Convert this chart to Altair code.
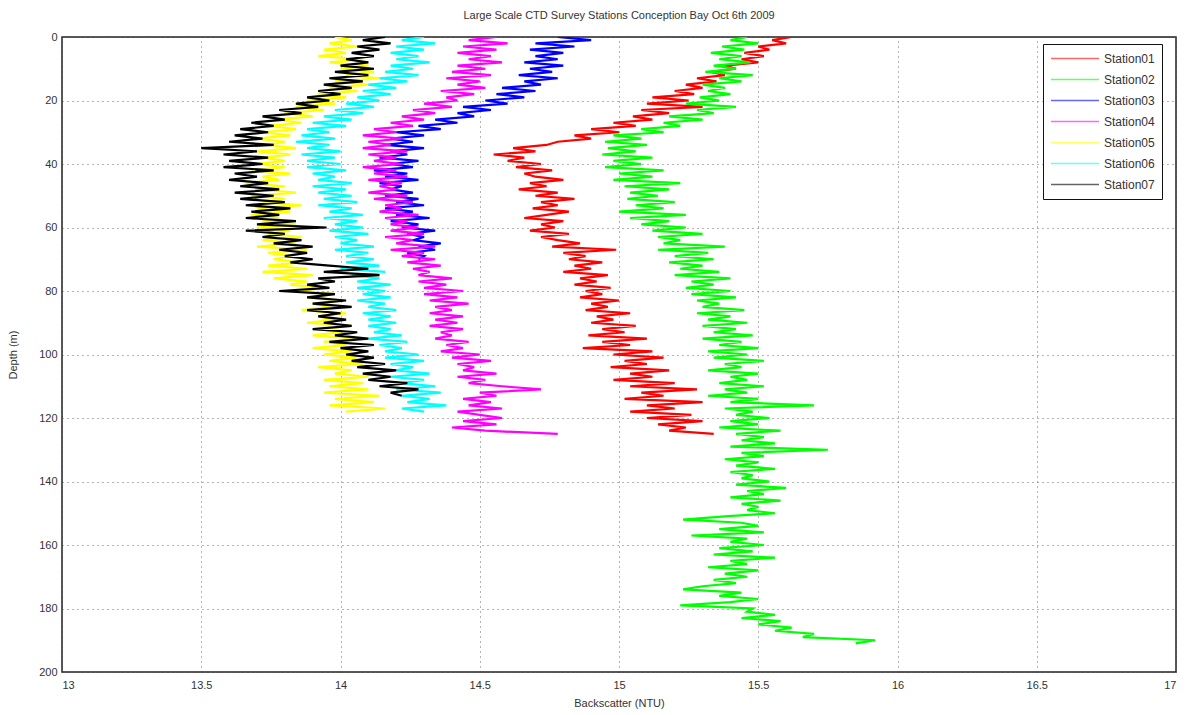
import altair as alt
import pandas as pd

stations = ["Station01", "Station02", "Station03", "Station04", "Station05", "Station06", "Station07"]
colors = ["#ff0000", "#00ff00", "#0000ff", "#ff00ff", "#ffff00", "#00ffff", "#000000"]

# Backscatter (NTU) readings, one per metre of depth starting at 0 m
s01_surface = 17.3  # first surface reading runs off the right edge
s01 = [15.62, 15.55, 15.60, 15.50, 15.54, 15.45, 15.52, 15.44, 15.50, 15.38,
       15.42, 15.33, 15.38, 15.28, 15.35, 15.24, 15.30, 15.20, 15.27, 15.12,
       15.25, 15.10, 15.30, 15.08, 15.18, 15.05, 15.12, 14.98, 15.06, 14.90,
       15.00, 14.84, 14.90, 14.78, 14.74, 14.62, 14.70, 14.55, 14.66, 14.60,
       14.72, 14.63, 14.76, 14.66, 14.70, 14.80, 14.68, 14.74, 14.64, 14.78,
       14.70, 14.84, 14.72, 14.78, 14.69, 14.82, 14.74, 14.66, 14.80, 14.72,
       14.77, 14.68, 14.82, 14.72, 14.78, 14.86, 14.76, 14.99, 14.80, 14.88,
       14.82, 14.94, 14.84, 14.90, 14.80, 14.96, 14.86, 14.92, 14.84, 14.97,
       14.88, 14.94, 14.86, 15.00, 14.90, 14.96, 14.88, 15.04, 14.92, 14.98,
       14.90, 15.06, 14.94, 15.02, 14.89, 15.10, 14.94, 15.04, 14.87, 15.12,
       14.98, 15.16, 15.02, 15.10, 14.97, 15.18, 15.04, 15.12, 14.98, 15.20,
       15.04, 15.28, 15.08, 15.16, 15.02, 15.30, 15.10, 15.20, 15.04, 15.26,
       15.10, 15.30, 15.14, 15.24, 15.18, 15.34]
s02 = [15.46, 15.40, 15.50, 15.37, 15.45, 15.33, 15.44, 15.36, 15.47, 15.34,
       15.42, 15.31, 15.48, 15.36, 15.44, 15.30, 15.38, 15.32, 15.40, 15.29,
       15.36, 15.24, 15.42, 15.28, 15.34, 15.18, 15.30, 15.16, 15.22, 15.08,
       15.16, 14.98, 15.08, 14.95, 15.10, 14.96, 15.06, 14.94, 15.12, 14.98,
       15.08, 14.95, 15.16, 15.00, 15.12, 14.98, 15.22, 15.02, 15.18, 15.04,
       15.14, 15.03, 15.20, 15.06, 15.16, 15.00, 15.24, 15.04, 15.18, 15.08,
       15.24, 15.12, 15.30, 15.14, 15.22, 15.16, 15.38, 15.14, 15.32, 15.20,
       15.34, 15.18, 15.30, 15.22, 15.36, 15.20, 15.40, 15.26, 15.34, 15.24,
       15.40, 15.26, 15.42, 15.28, 15.36, 15.30, 15.45, 15.28, 15.40, 15.32,
       15.46, 15.30, 15.42, 15.34, 15.48, 15.30, 15.44, 15.36, 15.50, 15.32,
       15.46, 15.34, 15.52, 15.38, 15.44, 15.32, 15.50, 15.40, 15.46, 15.36,
       15.52, 15.38, 15.46, 15.32, 15.50, 15.40, 15.70, 15.38, 15.48, 15.42,
       15.54, 15.40, 15.50, 15.36, 15.58, 15.42, 15.52, 15.44, 15.56, 15.40,
       15.75, 15.44, 15.52, 15.38, 15.50, 15.42, 15.56, 15.40, 15.48, 15.44,
       15.54, 15.42, 15.60, 15.46, 15.52, 15.40, 15.58, 15.44, 15.50, 15.46,
       15.56, 15.38, 15.23, 15.44, 15.50, 15.36, 15.52, 15.26, 15.46, 15.40,
       15.52, 15.36, 15.48, 15.34, 15.56, 15.40, 15.46, 15.32, 15.50, 15.38,
       15.46, 15.34, 15.42, 15.30, 15.23, 15.44, 15.36, 15.50, 15.40, 15.22,
       15.48, 15.46, 15.56, 15.44, 15.58, 15.50, 15.62, 15.56, 15.70, 15.66,
       15.92, 15.85]
s03 = [14.78, 14.90, 14.70, 14.84, 14.68, 14.80, 14.70, 14.78, 14.66, 14.80,
       14.68, 14.76, 14.64, 14.78, 14.66, 14.72, 14.58, 14.70, 14.56, 14.66,
       14.52, 14.60, 14.44, 14.54, 14.42, 14.48, 14.34, 14.42, 14.28, 14.36,
       14.20, 14.30, 14.18, 14.26, 14.16, 14.30, 14.18, 14.24, 14.14, 14.28,
       14.18, 14.26, 14.12, 14.24, 14.16, 14.28, 14.14, 14.22, 14.18, 14.26,
       14.16, 14.28, 14.20, 14.30, 14.16, 14.26, 14.20, 14.32, 14.18, 14.28,
       14.22, 14.34, 14.24, 14.30, 14.26, 14.36, 14.28, 14.34, 14.24, 14.30,
       14.28]
s04 = [14.56, 14.46, 14.60, 14.44, 14.56, 14.42, 14.54, 14.46, 14.58, 14.42,
       14.52, 14.40, 14.54, 14.38, 14.50, 14.42, 14.52, 14.36, 14.48, 14.38,
       14.42, 14.30, 14.40, 14.26, 14.34, 14.22, 14.30, 14.18, 14.26, 14.12,
       14.20, 14.08, 14.22, 14.10, 14.18, 14.08, 14.24, 14.10, 14.20, 14.12,
       14.22, 14.08, 14.20, 14.12, 14.24, 14.10, 14.22, 14.14, 14.20, 14.10,
       14.24, 14.12, 14.26, 14.16, 14.22, 14.14, 14.28, 14.16, 14.24, 14.18,
       14.28, 14.18, 14.30, 14.16, 14.26, 14.20, 14.34, 14.18, 14.30, 14.22,
       14.34, 14.24, 14.36, 14.26, 14.32, 14.28, 14.40, 14.28, 14.38, 14.30,
       14.44, 14.30, 14.42, 14.32, 14.46, 14.34, 14.40, 14.32, 14.44, 14.34,
       14.42, 14.32, 14.44, 14.36, 14.40, 14.34, 14.46, 14.38, 14.44, 14.36,
       14.50, 14.40, 14.54, 14.42, 14.48, 14.44, 14.56, 14.42, 14.52, 14.46,
       14.58, 14.72, 14.50, 14.56, 14.44, 14.54, 14.46, 14.58, 14.42, 14.50,
       14.58, 14.44, 14.56, 14.40, 14.52, 14.78]
s05 = [13.98, 14.04, 13.96, 14.06, 13.94, 14.02, 13.92, 14.08, 13.96, 14.10,
       14.00, 14.12, 14.02, 14.14, 13.98, 14.10, 13.96, 14.06, 13.92, 14.02,
       13.88, 13.98, 13.84, 13.94, 13.80, 13.90, 13.76, 13.86, 13.74, 13.84,
       13.72, 13.82, 13.70, 13.80, 13.74, 13.84, 13.70, 13.82, 13.72, 13.80,
       13.70, 13.80, 13.68, 13.82, 13.72, 13.78, 13.66, 13.80, 13.70, 13.84,
       13.68, 13.80, 13.72, 13.86, 13.70, 13.82, 13.68, 13.78, 13.72, 13.84,
       13.70, 13.82, 13.74, 13.86, 13.72, 13.84, 13.70, 13.88, 13.74, 13.82,
       13.76, 13.86, 13.74, 13.88, 13.72, 13.90, 13.76, 13.88, 13.82, 13.94,
       13.86, 13.98, 13.88, 14.00, 13.90, 13.96, 13.86, 14.02, 13.92, 13.98,
       13.88, 14.04, 13.92, 14.00, 13.90, 14.06, 13.94, 14.02, 13.90, 14.04,
       13.94, 14.06, 13.96, 14.08, 13.92, 14.04, 13.98, 14.10, 13.94, 14.08,
       13.96, 14.10, 13.94, 14.14, 13.98, 14.12, 13.96, 14.16, 14.02]
s06 = [14.30, 14.22, 14.34, 14.20, 14.30, 14.18, 14.28, 14.20, 14.32, 14.18,
       14.26, 14.16, 14.28, 14.14, 14.24, 14.10, 14.20, 14.08, 14.18, 14.06,
       14.14, 14.02, 14.12, 13.98, 14.08, 13.94, 14.04, 13.90, 14.02, 13.88,
       13.96, 13.86, 13.98, 13.84, 13.96, 13.88, 14.00, 13.86, 13.98, 13.88,
       14.00, 13.88, 14.02, 13.90, 13.98, 13.92, 14.04, 13.90, 14.02, 13.92,
       14.04, 13.94, 14.06, 13.92, 14.04, 13.96, 14.08, 13.94, 14.06, 13.98,
       14.08, 13.96, 14.10, 13.98, 14.06, 14.00, 14.12, 13.98, 14.10, 14.02,
       14.12, 14.02, 14.14, 14.00, 14.16, 14.04, 14.14, 14.06, 14.18, 14.06,
       14.16, 14.08, 14.18, 14.06, 14.16, 14.10, 14.20, 14.08, 14.18, 14.10,
       14.20, 14.10, 14.18, 14.12, 14.22, 14.10, 14.24, 14.14, 14.22, 14.16,
       14.28, 14.16, 14.30, 14.18, 14.26, 14.20, 14.32, 14.18, 14.30, 14.22,
       14.34, 14.20, 14.36, 14.22, 14.32, 14.24, 14.38, 14.22, 14.30]
s07 = [14.16, 14.08, 14.18, 14.06, 14.14, 14.04, 14.12, 14.02, 14.10, 14.00,
       14.12, 13.98, 14.10, 13.96, 14.08, 13.94, 14.04, 13.92, 14.00, 13.88,
       13.96, 13.84, 13.92, 13.78, 13.86, 13.72, 13.80, 13.68, 13.76, 13.64,
       13.74, 13.62, 13.72, 13.60, 13.76, 13.50, 13.70, 13.58, 13.74, 13.60,
       13.72, 13.58, 13.76, 13.62, 13.70, 13.60, 13.74, 13.64, 13.78, 13.62,
       13.76, 13.64, 13.80, 13.66, 13.82, 13.68, 13.78, 13.66, 13.84, 13.70,
       13.95, 13.66, 13.80, 13.72, 13.86, 13.76, 13.90, 13.78, 13.88, 13.80,
       13.90, 13.82, 13.96, 14.10, 13.94, 14.14, 13.92, 13.98, 13.88, 13.96,
       13.78, 13.98, 13.88, 14.02, 13.90, 14.04, 13.88, 14.00, 13.92, 14.02,
       13.94, 14.04, 13.90, 14.06, 13.98, 14.10, 13.96, 14.12, 14.00, 14.10,
       14.02, 14.12, 14.04, 14.16, 14.06, 14.20, 14.08, 14.18, 14.10, 14.24,
       14.14, 14.28, 14.18, 14.22]

x_ticks = [13, 13.5, 14, 14.5, 15, 15.5, 16, 16.5, 17]
y_ticks = [0, 20, 40, 60, 80, 100, 120, 140, 160, 180, 200]

series = [s01, s02, s03, s04, s05, s06, s07]
rows = [{"station": "Station01", "depth": 0, "ntu": s01_surface, "idx": -1}]
for name, vals in zip(stations, series):
    for i, v in enumerate(vals):
        rows.append({"station": name, "depth": i, "ntu": v, "idx": i})
df = pd.DataFrame(rows)

FONT = "Liberation Sans"

chart = alt.Chart(df).mark_line(strokeWidth=2.2, clip=True).encode(
    x=alt.X("ntu:Q", title="Backscatter (NTU)",
            scale=alt.Scale(domain=[13, 17], nice=False, zero=False),
            axis=alt.Axis(values=x_ticks, format="~g", labelPadding=7, titlePadding=7,
                          tickSize=0, grid=True, titleFontWeight="normal")),
    y=alt.Y("depth:Q", title="Depth (m)",
            scale=alt.Scale(domain=[0, 200], reverse=True, nice=False, zero=False),
            axis=alt.Axis(values=y_ticks, labelPadding=5, titlePadding=20,
                          tickSize=0, grid=True, titleFontWeight="normal")),
    color=alt.Color("station:N",
                    scale=alt.Scale(domain=stations, range=colors),
                    legend=alt.Legend(title=None, orient="none", legendX=981, legendY=7,
                                      symbolType="stroke", symbolSize=2304,
                                      symbolStrokeWidth=1.5, symbolOpacity=0.6,
                                      clipHeight=15, rowPadding=6,
                                      labelFontSize=12, labelOffset=4, padding=7,
                                      strokeColor="#111", fillColor="white",
                                      labelFont=FONT, labelColor="#333")),
    order=alt.Order("idx:Q"),
).properties(
    width=1114,
    height=635,
    background="white",
    title=alt.TitleParams("Large Scale CTD Survey Stations Conception Bay Oct 6th 2009",
                          fontSize=11, font=FONT, fontWeight="normal", color="#333",
                          offset=10),
    autosize=alt.AutoSizeParams(type="none"),
    padding={"left": 62, "top": 37, "right": 10, "bottom": 43},
).configure_view(
    stroke="#222", strokeWidth=1.5
).configure_axis(
    labelFont=FONT, titleFont=FONT, labelFontSize=11, titleFontSize=11,
    titleFontWeight="normal", labelColor="#333", titleColor="#333",
    gridColor="#444", gridDash=[1, 4], gridOpacity=0.8, gridWidth=1,
    domain=False,
)

chart.save("out.html", embed_options={"renderer": "svg", "actions": False})
